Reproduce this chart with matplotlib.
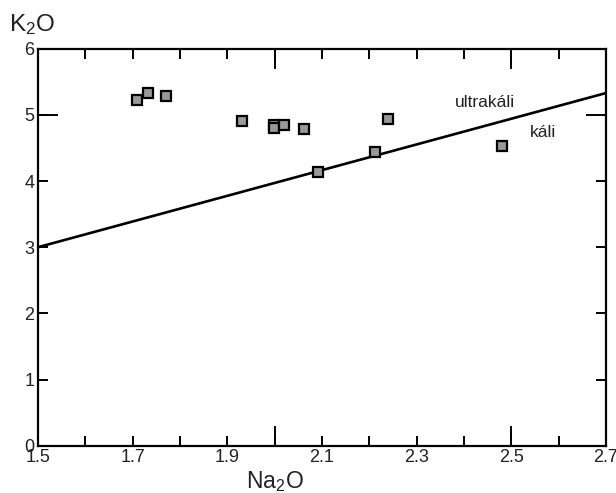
import matplotlib
matplotlib.use("Agg")
import matplotlib.pyplot as plt
import matplotlib.transforms as mtransforms
import numpy as np

# --- data ---
na2o = [1.710, 1.732, 1.770, 1.930, 1.999, 1.999, 2.020, 2.061, 2.240, 2.211, 2.091, 2.480]
k2o  = [5.22, 5.33, 5.28, 4.91, 4.85, 4.80, 4.84, 4.78, 4.94, 4.44, 4.14, 4.53]

# ultrapotassic / potassic boundary
line_na2o = [1.5, 2.7]
line_k2o  = [3.0, 5.33]

x_ticks = np.round(np.arange(1.5, 2.71, 0.1), 1)
x_labels = ["1.5", "", "1.7", "", "1.9", "", "2.1", "", "2.3", "", "2.5", "", "2.7"]
x_long = [2.0, 2.5]
y_ticks = [0, 1, 2, 3, 4, 5, 6]
y_long = [5]

plt.rcParams["font.family"] = ["Liberation Sans", "DejaVu Sans"]
plt.rcParams["mathtext.fontset"] = "custom"
plt.rcParams["mathtext.rm"] = "Liberation Sans"
plt.rcParams["mathtext.it"] = "Liberation Sans"

fig = plt.figure(figsize=(6.16, 4.93), dpi=100)
ax = fig.add_axes([38 / 616, 1 - 445.7 / 493, 568 / 616, 397 / 493])

ax.plot(line_na2o, line_k2o, color="black", lw=1.9, zorder=2)
ax.plot(na2o, k2o, ls="none", marker="s", ms=7.2, mfc="#999999", mec="black",
        mew=1.6, zorder=3)

ax.text(2.444, 5.18, "ultrakáli", ha="center", va="center", fontsize=12.5, color="#222222")
ax.text(2.567, 4.74, "káli", ha="center", va="center", fontsize=12.5, color="#222222")

ax.set_xlim(1.5, 2.7)
ax.set_ylim(0, 6)
ax.set_xticks(x_ticks)
ax.set_xticklabels(x_labels)
ax.set_yticks(y_ticks)
ax.tick_params(direction="in", length=7, width=1.4, labelsize=13, pad=2.5,
               top=True, right=True, colors="black", labelcolor="#222222")
for s in ax.spines.values():
    s.set_linewidth(1.6)

# longer ticks
bx = mtransforms.blended_transform_factory(ax.transData, ax.transAxes)
for xv in x_long:
    ax.plot([xv, xv], [0, 0.048], transform=bx, color="black", lw=1.4, clip_on=False)
    ax.plot([xv, xv], [1, 1 - 0.048], transform=bx, color="black", lw=1.4, clip_on=False)
by = mtransforms.blended_transform_factory(ax.transAxes, ax.transData)
for yv in y_long:
    ax.plot([0, 0.033], [yv, yv], transform=by, color="black", lw=1.4, clip_on=False)
    ax.plot([1, 1 - 0.033], [yv, yv], transform=by, color="black", lw=1.4, clip_on=False)

ax.set_xlabel(r"Na$_2$O", fontsize=16.5, color="#222222")
ax.xaxis.set_label_coords((2.0 - 1.5) / 1.2, -0.06, transform=ax.transAxes)
ax.xaxis.label.set_va("top")
fig.text(9 / 616, 1 - 31 / 493, r"K$_2$O", fontsize=17.5, ha="left", va="baseline",
         color="#222222")

fig.savefig("out.png", dpi=100)
